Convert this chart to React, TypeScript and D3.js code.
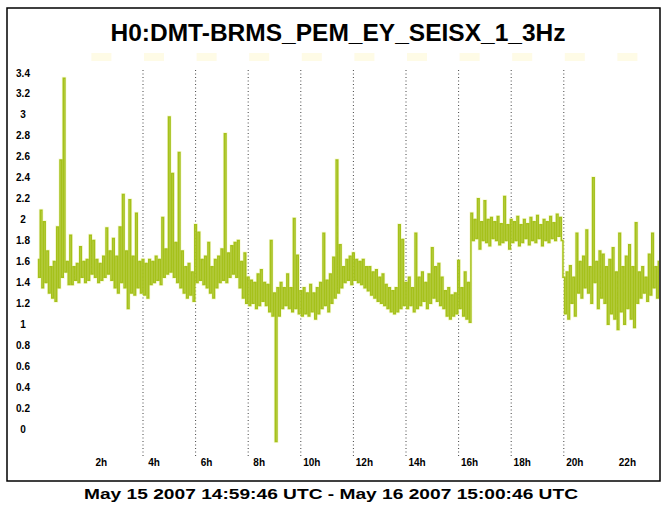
import React from 'react';
import * as d3 from 'd3';

// seismic BLRMS, one bin every 7.5 minutes (0.125 h): max and min of each bin
const binHours = 0.125;
const peaks = [
  1.62, 2.09, 1.98, 1.70, 1.55, 1.60, 1.93, 2.57, 3.35, 1.60,
  1.85, 1.55, 1.58, 1.74, 1.60, 1.62, 1.85, 1.80, 1.62, 1.58,
  1.65, 1.92, 1.70, 1.82, 1.65, 1.93, 2.24, 1.70, 2.19, 1.65,
  2.06, 1.60, 1.62, 1.58, 1.62, 1.60, 1.65, 1.62, 2.02, 1.72,
  2.98, 2.44, 1.78, 2.64, 1.70, 1.55, 1.58, 1.50, 1.95, 1.88,
  1.62, 1.65, 1.78, 1.55, 1.62, 1.65, 1.72, 2.82, 1.68, 1.75,
  1.78, 1.80, 1.60, 1.68, 1.45, 1.42, 1.40, 1.48, 1.52, 1.40,
  1.38, 1.80, 1.30, 1.35, 1.40, 1.35, 1.48, 1.35, 2.01, 1.66,
  1.32, 1.35, 1.30, 1.38, 1.30, 1.35, 1.40, 1.87, 1.42, 1.48,
  1.64, 2.57, 1.76, 1.55, 1.62, 1.65, 1.68, 1.62, 1.60, 1.62,
  1.55, 1.55, 1.50, 1.52, 1.45, 1.48, 1.38, 1.35, 1.32, 1.35,
  1.95, 1.81, 1.40, 1.45, 1.35, 1.87, 1.45, 1.50, 1.40, 1.48,
  1.73, 1.55, 1.58, 1.45, 1.32, 1.35, 1.28, 1.30, 1.61, 1.35,
  1.50, 1.40, 2.06, 2.00, 2.20, 1.98, 2.18, 2.00, 2.02, 1.98,
  2.03, 1.96, 2.22, 1.95, 2.00, 1.98, 2.03, 1.95, 2.00, 1.96,
  2.02, 1.98, 2.04, 1.95, 2.00, 1.98, 2.03, 1.97, 2.05, 2.02,
  1.45, 1.50, 1.56, 1.45, 1.87, 1.60, 1.65, 1.90, 1.55, 2.40,
  1.60, 1.70, 1.67, 1.55, 1.62, 1.73, 1.50, 1.87, 1.55, 1.65,
  1.76, 1.55, 1.97, 1.50, 1.55, 1.45, 1.67, 1.87, 1.55, 1.60,
];
const troughs = [
  1.45, 1.35, 1.40, 1.30, 1.25, 1.22, 1.35, 1.45, 1.50, 1.38,
  1.38, 1.42, 1.40, 1.45, 1.40, 1.42, 1.48, 1.45, 1.40, 1.42,
  1.45, 1.48, 1.42, 1.35, 1.30, 1.40, 1.35, 1.15, 1.30, 1.28,
  1.35, 1.30, 1.28, 1.25, 1.38, 1.40, 1.42, 1.38, 1.45, 1.48,
  1.50, 1.45, 1.40, 1.35, 1.30, 1.25, 1.28, 1.22, 1.40, 1.42,
  1.38, 1.35, 1.30, 1.25, 1.35, 1.40, 1.42, 1.40, 1.45, 1.48,
  1.45, 1.35, 1.25, 1.20, 1.18, 1.20, 1.15, 1.18, 1.22, 1.18,
  1.12, 1.08, -0.12, 1.08, 1.15, 1.18, 1.15, 1.12, 1.15, 1.10,
  1.08, 1.10, 1.08, 1.12, 1.05, 1.10, 1.15, 1.18, 1.12, 1.20,
  1.25, 1.30, 1.35, 1.40, 1.42, 1.38, 1.42, 1.40, 1.38, 1.35,
  1.32, 1.28, 1.25, 1.22, 1.20, 1.18, 1.15, 1.12, 1.10, 1.12,
  1.15, 1.18, 1.15, 1.18, 1.12, 1.15, 1.18, 1.22, 1.15, 1.20,
  1.25, 1.22, 1.18, 1.15, 1.08, 1.05, 1.08, 1.10, 1.15, 1.08,
  1.05, 1.02, 1.80, 1.82, 1.72, 1.80, 1.78, 1.75, 1.82, 1.80,
  1.76, 1.78, 1.80, 1.72, 1.78, 1.80, 1.75, 1.78, 1.82, 1.76,
  1.80, 1.78, 1.82, 1.75, 1.80, 1.78, 1.82, 1.80, 1.84, 1.80,
  1.10, 1.05, 1.20, 1.08, 1.30, 1.25, 1.35, 1.30, 1.20, 1.40,
  1.15, 1.25, 1.20, 1.00, 1.10, 1.05, 0.95, 1.12, 1.00, 1.15,
  1.05, 0.97, 1.20, 1.25, 1.30, 1.22, 1.28, 1.35, 1.25, 1.30,
];

const yTicks = [0, 0.2, 0.4, 0.6, 0.8, 1, 1.2, 1.4, 1.6, 1.8, 2, 2.2, 2.4, 2.6, 2.8, 3, 3.2, 3.4];
const xLabelHours = [2, 4, 6, 8, 10, 12, 14, 16, 18, 20, 22];
const gridHours = [4, 6, 8, 10, 12, 14, 16, 18, 20];

const title = 'H0:DMT-BRMS_PEM_EY_SEISX_1_3Hz';
const subtitle = 'May 15 2007 14:59:46 UTC - May 16 2007 15:00:46 UTC';

export default function App() {
  const W = 663;
  const H = 508;

  const x = d3.scaleLinear().domain([0, 24]).range([37.8, 669]);
  const y = d3.scaleLinear().domain([0, 3.4]).range([429, 73]);

  // max then min of each bin, half a bin apart
  const series = peaks.flatMap((p, i) => [
    { t: i * binHours, v: p },
    { t: i * binHours + binHours / 2, v: troughs[i] },
  ]);

  const line = d3.line<{ t: number; v: number }>()
    .x(d => x(d.t))
    .y(d => y(d.v))
    .curve(d3.curveStep);
  const path = line(series) || '';

  const font = '"Liberation Sans", Arial, sans-serif';

  return (
    <svg width={W} height={H} style={{ position: 'fixed', left: 0, top: 0, background: '#fff' }}>
      <defs>
        <clipPath id="plotClip">
          <rect x={8} y={9} width={651} height={471} />
        </clipPath>
      </defs>

      {/* faint label ghosts near the top */}
      {xLabelHours.map(h => (
        <rect key={'g' + h} x={x(h) + 1} y={53} width={20} height={8} fill="#fefbe6" />
      ))}

      {/* dotted hour grid */}
      {gridHours.map(h => (
        <line key={h} x1={x(h)} x2={x(h)} y1={70} y2={457}
          stroke="#444" strokeWidth={1} strokeDasharray="1,2.5" />
      ))}

      <g clipPath="url(#plotClip)">
        <path d={path} fill="none" stroke="#f0f4b0" strokeWidth={3} strokeOpacity={0.55} />
        <path d={path} fill="none" stroke="#a5c11b" strokeWidth={1.5} />
      </g>

      {/* y labels */}
      {yTicks.map(v => (
        <text key={v} x={23} y={y(v)} dy="0.35em" textAnchor="middle"
          fontFamily={font} fontWeight="bold" fontSize={10} fill="#000">
          {String(+v.toFixed(1))}
        </text>
      ))}

      {/* x labels */}
      {xLabelHours.map(h => (
        <text key={h} x={x(h) + 11} y={462} dy="0.35em" textAnchor="middle"
          fontFamily={font} fontWeight="bold" fontSize={10} fill="#000">
          {h + 'h'}
        </text>
      ))}

      <text x={338} y={33} dy="0.35em" textAnchor="middle" fontFamily={font}
        fontWeight="bold" fontSize={23} textLength={455} lengthAdjust="spacingAndGlyphs">
        {title}
      </text>

      {/* frame */}
      <rect x={7} y={8} width={653} height={473} fill="none" stroke="#000" strokeWidth={1.5} />

      <text x={331} y={494} dy="0.35em" textAnchor="middle" fontFamily={font}
        fontWeight="bold" fontSize={15} textLength={494} lengthAdjust="spacingAndGlyphs">
        {subtitle}
      </text>
    </svg>
  );
}
